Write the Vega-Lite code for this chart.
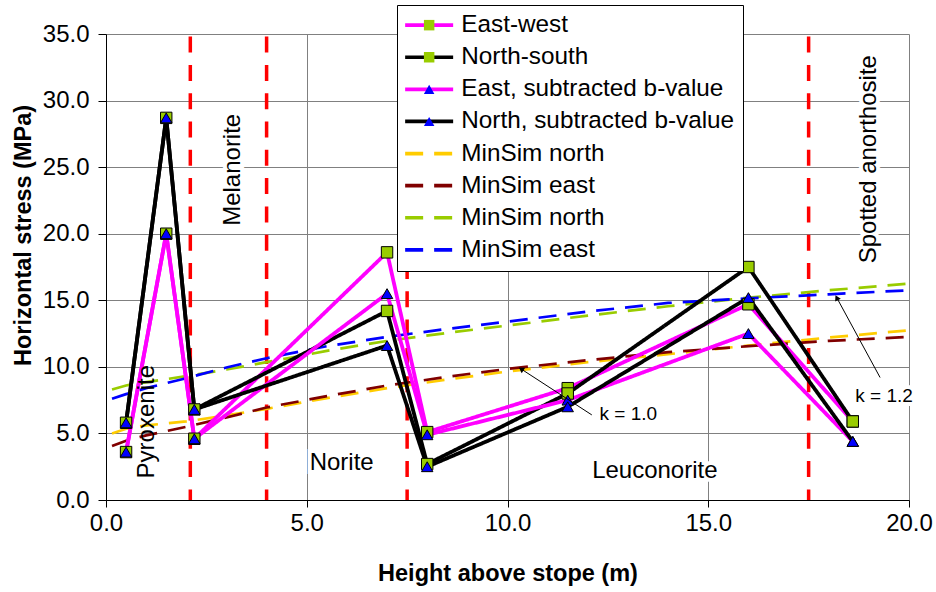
{
  "$schema": "https://vega.github.io/schema/vega-lite/v6.json",
  "width": 803,
  "height": 466,
  "autosize": {"type": "none"},
  "padding": {"left": 106, "top": 34, "right": 27, "bottom": 92},
  "background": "white",
  "config": {
    "font": "Liberation Sans",
    "view": {"stroke": null},
    "axis": {
      "labelColor": "black", "titleColor": "black", "domainColor": "black", "tickColor": "black",
      "gridColor": "#808080", "labelFontSize": 24, "titleFontSize": 23.5, "titleFontWeight": "bold",
      "labelOverlap": false, "labelFlush": false, "format": ".1f"
    },
    "axisX": {"tickCount": 4, "tickSize": 7, "labelBaseline": "alphabetic", "labelPadding": 23, "titleBaseline": "alphabetic", "titleY": 80},
    "axisY": {"tickCount": 7, "tickSize": 8, "labelPadding": 9, "titleAngle": 270, "titleBaseline": "alphabetic", "titleAlign": "center", "titleX": -76, "titleY": 201}
  },
  "datasets": {
    "stress": [
      {"series": "East-west", "x": 0.5, "y": 3.6},
      {"series": "East-west", "x": 1.5, "y": 20.0},
      {"series": "East-west", "x": 2.2, "y": 4.6},
      {"series": "East-west", "x": 7.0, "y": 18.6},
      {"series": "East-west", "x": 8.0, "y": 5.1},
      {"series": "East-west", "x": 11.5, "y": 8.4},
      {"series": "East-west", "x": 16.0, "y": 14.7},
      {"series": "East-west", "x": 18.6, "y": 5.9},
      {"series": "North-south", "x": 0.5, "y": 5.8},
      {"series": "North-south", "x": 1.5, "y": 28.7},
      {"series": "North-south", "x": 2.2, "y": 6.8},
      {"series": "North-south", "x": 7.0, "y": 14.2},
      {"series": "North-south", "x": 8.0, "y": 2.7},
      {"series": "North-south", "x": 11.5, "y": 8.0},
      {"series": "North-south", "x": 16.0, "y": 17.5},
      {"series": "North-south", "x": 18.6, "y": 5.9},
      {"series": "East, subtracted b-value", "x": 0.5, "y": 3.6},
      {"series": "East, subtracted b-value", "x": 1.5, "y": 20.0},
      {"series": "East, subtracted b-value", "x": 2.2, "y": 4.6},
      {"series": "East, subtracted b-value", "x": 7.0, "y": 15.5},
      {"series": "East, subtracted b-value", "x": 8.0, "y": 4.9},
      {"series": "East, subtracted b-value", "x": 11.5, "y": 7.5},
      {"series": "East, subtracted b-value", "x": 16.0, "y": 12.5},
      {"series": "East, subtracted b-value", "x": 18.6, "y": 4.4},
      {"series": "North, subtracted b-value", "x": 0.5, "y": 5.8},
      {"series": "North, subtracted b-value", "x": 1.5, "y": 28.7},
      {"series": "North, subtracted b-value", "x": 2.2, "y": 6.8},
      {"series": "North, subtracted b-value", "x": 7.0, "y": 11.6},
      {"series": "North, subtracted b-value", "x": 8.0, "y": 2.5},
      {"series": "North, subtracted b-value", "x": 11.5, "y": 7.0},
      {"series": "North, subtracted b-value", "x": 16.0, "y": 15.2},
      {"series": "North, subtracted b-value", "x": 18.6, "y": 4.4},
      {"series": "MinSim north", "x": 0.15, "y": 5.0},
      {"series": "MinSim north", "x": 0.5, "y": 5.35},
      {"series": "MinSim north", "x": 1.0, "y": 5.6},
      {"series": "MinSim north", "x": 2.0, "y": 5.9},
      {"series": "MinSim north", "x": 3.0, "y": 6.35},
      {"series": "MinSim north", "x": 4.0, "y": 6.85},
      {"series": "MinSim north", "x": 5.5, "y": 7.65},
      {"series": "MinSim north", "x": 7.0, "y": 8.4},
      {"series": "MinSim north", "x": 8.5, "y": 9.05},
      {"series": "MinSim north", "x": 10.0, "y": 9.65},
      {"series": "MinSim north", "x": 12.0, "y": 10.35},
      {"series": "MinSim north", "x": 14.0, "y": 10.95},
      {"series": "MinSim north", "x": 16.0, "y": 11.6},
      {"series": "MinSim north", "x": 18.0, "y": 12.2},
      {"series": "MinSim north", "x": 20.0, "y": 12.75},
      {"series": "MinSim east", "x": 0.15, "y": 4.05},
      {"series": "MinSim east", "x": 0.5, "y": 4.45},
      {"series": "MinSim east", "x": 1.0, "y": 4.85},
      {"series": "MinSim east", "x": 2.0, "y": 5.5},
      {"series": "MinSim east", "x": 3.0, "y": 6.2},
      {"series": "MinSim east", "x": 4.0, "y": 6.95},
      {"series": "MinSim east", "x": 5.5, "y": 7.8},
      {"series": "MinSim east", "x": 7.0, "y": 8.6},
      {"series": "MinSim east", "x": 8.5, "y": 9.25},
      {"series": "MinSim east", "x": 10.0, "y": 9.85},
      {"series": "MinSim east", "x": 12.0, "y": 10.5},
      {"series": "MinSim east", "x": 14.0, "y": 11.1},
      {"series": "MinSim east", "x": 16.0, "y": 11.55},
      {"series": "MinSim east", "x": 18.0, "y": 11.95},
      {"series": "MinSim east", "x": 20.0, "y": 12.25},
      {"series": "MinSim north ", "x": 0.15, "y": 8.3},
      {"series": "MinSim north ", "x": 0.5, "y": 8.6},
      {"series": "MinSim north ", "x": 1.0, "y": 8.85},
      {"series": "MinSim north ", "x": 2.0, "y": 9.3},
      {"series": "MinSim north ", "x": 3.0, "y": 9.8},
      {"series": "MinSim north ", "x": 4.0, "y": 10.35},
      {"series": "MinSim north ", "x": 5.5, "y": 11.2},
      {"series": "MinSim north ", "x": 7.0, "y": 11.95},
      {"series": "MinSim north ", "x": 8.5, "y": 12.55},
      {"series": "MinSim north ", "x": 10.0, "y": 13.1},
      {"series": "MinSim north ", "x": 12.0, "y": 13.85},
      {"series": "MinSim north ", "x": 14.0, "y": 14.55},
      {"series": "MinSim north ", "x": 16.0, "y": 15.2},
      {"series": "MinSim north ", "x": 18.0, "y": 15.75},
      {"series": "MinSim north ", "x": 20.0, "y": 16.25},
      {"series": "MinSim east ", "x": 0.15, "y": 7.6},
      {"series": "MinSim east ", "x": 0.5, "y": 7.95},
      {"series": "MinSim east ", "x": 1.0, "y": 8.4},
      {"series": "MinSim east ", "x": 2.0, "y": 9.15},
      {"series": "MinSim east ", "x": 3.0, "y": 9.95},
      {"series": "MinSim east ", "x": 4.0, "y": 10.65},
      {"series": "MinSim east ", "x": 5.5, "y": 11.55},
      {"series": "MinSim east ", "x": 7.0, "y": 12.25},
      {"series": "MinSim east ", "x": 8.5, "y": 12.85},
      {"series": "MinSim east ", "x": 10.0, "y": 13.4},
      {"series": "MinSim east ", "x": 12.0, "y": 14.15},
      {"series": "MinSim east ", "x": 14.0, "y": 14.8},
      {"series": "MinSim east ", "x": 16.0, "y": 15.15},
      {"series": "MinSim east ", "x": 18.0, "y": 15.45},
      {"series": "MinSim east ", "x": 20.0, "y": 15.75}
    ],
    "zones": [
      {"x": 2.1},
      {"x": 4.0},
      {"x": 7.5},
      {"x": 17.5}
    ],
    "verticalLabels": [
      {"name": "Pyroxenite", "x": 1.19, "y": 5.88},
      {"name": "Melanorite", "x": 3.34, "y": 24.8},
      {"name": "Spotted anorthosite", "x": 19.17, "y": 25.6}
    ],
    "horizontalLabels": [
      {"name": "Norite", "x": 5.87, "y": 2.25},
      {"name": "Leuconorite", "x": 13.67, "y": 1.65}
    ],
    "kLabels": [
      {"name": "k = 1.0", "x": 13.01, "y": 6.01},
      {"name": "k = 1.2", "x": 19.38, "y": 7.36}
    ],
    "arrows": [
      {"name": "k = 1.0", "x": 12.1, "y": 6.39, "x2": 10.34, "y2": 9.84},
      {"name": "k = 1.2", "x": 19.28, "y": 9.2, "x2": 18.2, "y2": 15.2}
    ]
  },
  "layer": [
    {
      "data": {"name": "horizontalLabels"},
      "mark": {"type": "text", "fontSize": 24, "align": "center", "baseline": "alphabetic", "stroke": "white", "strokeWidth": 8, "fill": "white"},
      "encoding": {
        "x": {"field": "x", "type": "quantitative", "title": "Height above stope (m)", "scale": {"domain": [0, 20], "nice": false}},
        "y": {"field": "y", "type": "quantitative", "title": "Horizontal stress (MPa)", "scale": {"domain": [0, 35], "nice": false}},
        "text": {"field": "name"}
      }
    },
    {
      "data": {"name": "verticalLabels"},
      "transform": [{"filter": "datum.name != 'Pyroxenite'"}],
      "mark": {"type": "text", "fontSize": 24, "angle": 270, "align": "center", "baseline": "alphabetic", "stroke": "white", "strokeWidth": 8, "fill": "white"},
      "encoding": {
        "x": {"field": "x", "type": "quantitative", "title": "Height above stope (m)", "scale": {"domain": [0, 20], "nice": false}},
        "y": {"field": "y", "type": "quantitative", "title": "Horizontal stress (MPa)", "scale": {"domain": [0, 35], "nice": false}},
        "text": {"field": "name"}
      }
    },
    {
      "data": {"name": "kLabels"},
      "mark": {"type": "text", "fontSize": 19, "align": "center", "baseline": "alphabetic", "stroke": "white", "strokeWidth": 8, "fill": "white"},
      "encoding": {
        "x": {"field": "x", "type": "quantitative", "title": "Height above stope (m)", "scale": {"domain": [0, 20], "nice": false}},
        "y": {"field": "y", "type": "quantitative", "title": "Horizontal stress (MPa)", "scale": {"domain": [0, 35], "nice": false}},
        "text": {"field": "name"}
      }
    },
    {
      "data": {"name": "zones"},
      "mark": {"type": "rule", "color": "#FF0000", "strokeWidth": 3.5, "strokeDash": [16, 12.3], "strokeDashOffset": 25.7},
      "encoding": {
        "x": {"field": "x", "type": "quantitative", "title": "Height above stope (m)", "scale": {"domain": [0, 20], "nice": false}}
      }
    },
    {
      "data": {"name": "stress"},
      "transform": [{"filter": "indexof(datum.series, 'MinSim') == 0"}],
      "mark": {"type": "line", "strokeWidth": 2.7},
      "encoding": {
        "x": {"field": "x", "type": "quantitative", "title": "Height above stope (m)", "scale": {"domain": [0, 20], "nice": false}},
        "y": {"field": "y", "type": "quantitative", "title": "Horizontal stress (MPa)", "scale": {"domain": [0, 35], "nice": false}},
        "color": {
          "field": "series",
          "type": "nominal",
          "scale": {
            "domain": ["East-west", "North-south", "East, subtracted b-value", "North, subtracted b-value", "MinSim north", "MinSim east", "MinSim north ", "MinSim east "],
            "range": ["#FF00FF", "#000000", "#FF00FF", "#000000", "#FFCC00", "#800000", "#99CC00", "#0000FF"]
          },
          "legend": {
            "orient": "none",
            "legendX": 291,
            "legendY": -29,
            "title": null,
            "padding": 8,
            "strokeColor": "black",
            "fillColor": "white",
            "labelFontSize": 24.3,
            "labelColor": "black",
            "labelLimit": 400,
            "labelOffset": 20,
            "rowPadding": 7.1,
            "symbolType": "M-2.4,0H2.4",
            "symbolSize": 400,
            "symbolOffset": 12,
            "symbolStrokeWidth": 3.7
          }
        },
        "strokeDash": {
          "field": "series",
          "type": "nominal",
          "scale": {
            "domain": ["East-west", "North-south", "East, subtracted b-value", "North, subtracted b-value", "MinSim north", "MinSim east", "MinSim north ", "MinSim east "],
            "range": [[1, 0], [1, 0], [1, 0], [1, 0], [18, 11], [18, 11], [18, 11], [18, 11]]
          }
        }
      }
    },
    {
      "data": {"name": "stress"},
      "transform": [{"filter": "indexof(datum.series, 'MinSim') != 0"}],
      "mark": {"type": "line", "strokeWidth": 3.8},
      "encoding": {
        "x": {"field": "x", "type": "quantitative", "title": "Height above stope (m)", "scale": {"domain": [0, 20], "nice": false}},
        "y": {"field": "y", "type": "quantitative", "title": "Horizontal stress (MPa)", "scale": {"domain": [0, 35], "nice": false}},
        "color": {"field": "series", "type": "nominal"},
        "strokeDash": {"field": "series", "type": "nominal"}
      }
    },
    {
      "data": {"name": "stress"},
      "transform": [{"filter": "indexof(datum.series, 'MinSim') != 0"}],
      "mark": {"type": "point", "filled": true, "stroke": "black", "strokeWidth": 1, "opacity": 1, "size": 130},
      "encoding": {
        "x": {"field": "x", "type": "quantitative", "title": "Height above stope (m)", "scale": {"domain": [0, 20], "nice": false}},
        "y": {"field": "y", "type": "quantitative", "title": "Horizontal stress (MPa)", "scale": {"domain": [0, 35], "nice": false}},
        "shape": {
          "field": "series",
          "type": "nominal",
          "scale": {
            "domain": ["East-west", "North-south", "East, subtracted b-value", "North, subtracted b-value"],
            "range": ["square", "square", "triangle-up", "triangle-up"]
          },
          "legend": {
            "orient": "none",
            "legendX": 291,
            "legendY": -29,
            "title": null,
            "padding": 8,
            "labelFontSize": 24.3,
            "labelOpacity": 0,
            "labelLimit": 400,
            "labelOffset": 20,
            "rowPadding": 7.1,
            "symbolSize": 110,
            "symbolOffset": 12,
            "symbolStrokeColor": "black",
            "symbolStrokeWidth": 1
          }
        },
        "fill": {
          "field": "series",
          "type": "nominal",
          "scale": {
            "domain": ["East-west", "North-south", "East, subtracted b-value", "North, subtracted b-value"],
            "range": ["#99CC00", "#99CC00", "#0000FF", "#0000FF"]
          }
        }
      }
    },
    {
      "data": {"name": "arrows"},
      "mark": {"type": "rule", "color": "black", "strokeWidth": 1},
      "encoding": {
        "x": {"field": "x", "type": "quantitative", "title": "Height above stope (m)", "scale": {"domain": [0, 20], "nice": false}},
        "y": {"field": "y", "type": "quantitative", "title": "Horizontal stress (MPa)", "scale": {"domain": [0, 35], "nice": false}},
        "x2": {"field": "x2"},
        "y2": {"field": "y2"}
      }
    },
    {
      "data": {"name": "arrows"},
      "transform": [{"filter": "datum.name == 'k = 1.0'"}],
      "mark": {"type": "point", "shape": "triangle-up", "filled": true, "color": "black", "size": 40, "angle": 303, "opacity": 1},
      "encoding": {
        "x": {"field": "x2", "type": "quantitative", "title": "Height above stope (m)", "scale": {"domain": [0, 20], "nice": false}},
        "y": {"field": "y2", "type": "quantitative", "title": "Horizontal stress (MPa)", "scale": {"domain": [0, 35], "nice": false}}
      }
    },
    {
      "data": {"name": "arrows"},
      "transform": [{"filter": "datum.name == 'k = 1.2'"}],
      "mark": {"type": "point", "shape": "triangle-up", "filled": true, "color": "black", "size": 40, "angle": 333, "opacity": 1},
      "encoding": {
        "x": {"field": "x2", "type": "quantitative", "title": "Height above stope (m)", "scale": {"domain": [0, 20], "nice": false}},
        "y": {"field": "y2", "type": "quantitative", "title": "Horizontal stress (MPa)", "scale": {"domain": [0, 35], "nice": false}}
      }
    },
    {
      "data": {"name": "horizontalLabels"},
      "mark": {"type": "text", "fontSize": 24, "align": "center", "baseline": "alphabetic", "color": "black"},
      "encoding": {
        "x": {"field": "x", "type": "quantitative", "title": "Height above stope (m)", "scale": {"domain": [0, 20], "nice": false}},
        "y": {"field": "y", "type": "quantitative", "title": "Horizontal stress (MPa)", "scale": {"domain": [0, 35], "nice": false}},
        "text": {"field": "name"}
      }
    },
    {
      "data": {"name": "verticalLabels"},
      "mark": {"type": "text", "fontSize": 24, "angle": 270, "align": "center", "baseline": "alphabetic", "color": "black"},
      "encoding": {
        "x": {"field": "x", "type": "quantitative", "title": "Height above stope (m)", "scale": {"domain": [0, 20], "nice": false}},
        "y": {"field": "y", "type": "quantitative", "title": "Horizontal stress (MPa)", "scale": {"domain": [0, 35], "nice": false}},
        "text": {"field": "name"}
      }
    },
    {
      "data": {"name": "kLabels"},
      "mark": {"type": "text", "fontSize": 19, "align": "center", "baseline": "alphabetic", "color": "black"},
      "encoding": {
        "x": {"field": "x", "type": "quantitative", "title": "Height above stope (m)", "scale": {"domain": [0, 20], "nice": false}},
        "y": {"field": "y", "type": "quantitative", "title": "Horizontal stress (MPa)", "scale": {"domain": [0, 35], "nice": false}},
        "text": {"field": "name"}
      }
    }
  ]
}
